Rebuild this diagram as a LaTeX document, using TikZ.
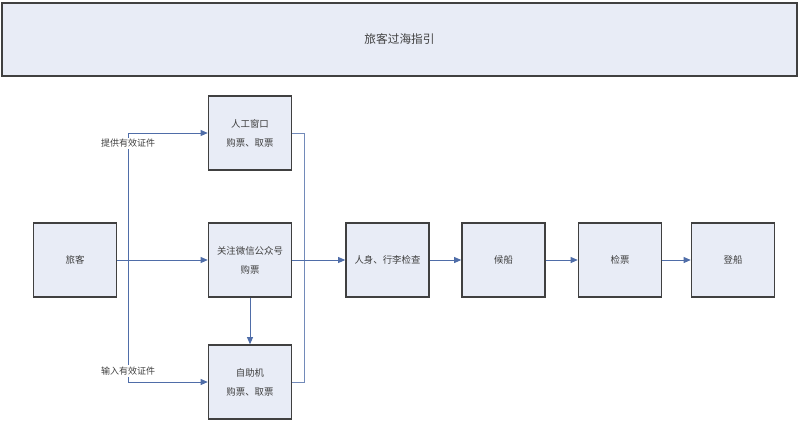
\documentclass[tikz,border=0pt]{standalone}
\usepackage{fontspec}
\newfontfamily\cjk{Noto Sans CJK SC}
\usetikzlibrary{arrows.meta}
\definecolor{boxfill}{RGB}{232,236,246}
\definecolor{flow}{RGB}{79,109,168}

\begin{document}
\begin{tikzpicture}[x=0.025cm, y=-0.025cm,
  arr/.style={-{Triangle[length=1.8mm, width=1.5mm]}, line width=0.7pt, flow},
  conn/.style={line width=0.7pt, flow!80},
  sbox/.style={draw=black!75, fill=boxfill, line width=1pt,
               minimum width=2.075cm, minimum height=1.85cm, align=center,
               text=black!75, font=\cjk\fontsize{6.7}{13.5}\selectfont},
  tbox/.style={draw=black!75, fill=boxfill, line width=1pt,
               minimum width=19.875cm, minimum height=1.825cm,
               text=black!75, font=\cjk\fontsize{8.3}{10}\selectfont},
  lbl/.style={fill=white, inner sep=1pt, text=black!75,
              font=\cjk\fontsize{6.4}{8}\selectfont},
]
\useasboundingbox (0,0) rectangle (800,423);
\node[tbox] (title) at (399.5,39.5) {旅客过海指引};
\node[sbox] (passenger) at (75,260) {旅客};
\node[sbox] (window) at (250,133) {人工窗口\\购票、取票};
\node[sbox] (wechat) at (250,260) {关注微信公众号\\购票};
\node[sbox] (kiosk)  at (250,382) {自助机\\购票、取票};
\node[sbox] (check)  at (387.5,260) {人身、行李检查};
\node[sbox] (wait)   at (503.5,260) {候船};
\node[sbox] (ticket) at (620,260) {检票};
\node[sbox] (board)  at (733,260) {登船};
\coordinate (fork)  at (128,260);
\coordinate (merge) at (304,260);
% left side: passenger to the three ways of buying
\draw[arr] (passenger.east) -- (wechat.west);
\draw[arr] (fork) |- (window.west);
\draw[arr] (fork) |- (kiosk.west);
\draw[arr] (wechat.south) -- (kiosk.north);
\node[lbl] (idshow)  at (128,143.5) {提供有效证件};
\node[lbl] (idinput) at (128,371) {输入有效证件};
% right side: merge and go on
\draw[conn] (window.east) -| (merge);
\draw[conn] (kiosk.east) -| (merge);
\draw[arr] (wechat.east) -- (check.west);
\draw[arr] (check) -- (wait);
\draw[arr] (wait) -- (ticket);
\draw[arr] (ticket) -- (board);
\end{tikzpicture}
\end{document}
